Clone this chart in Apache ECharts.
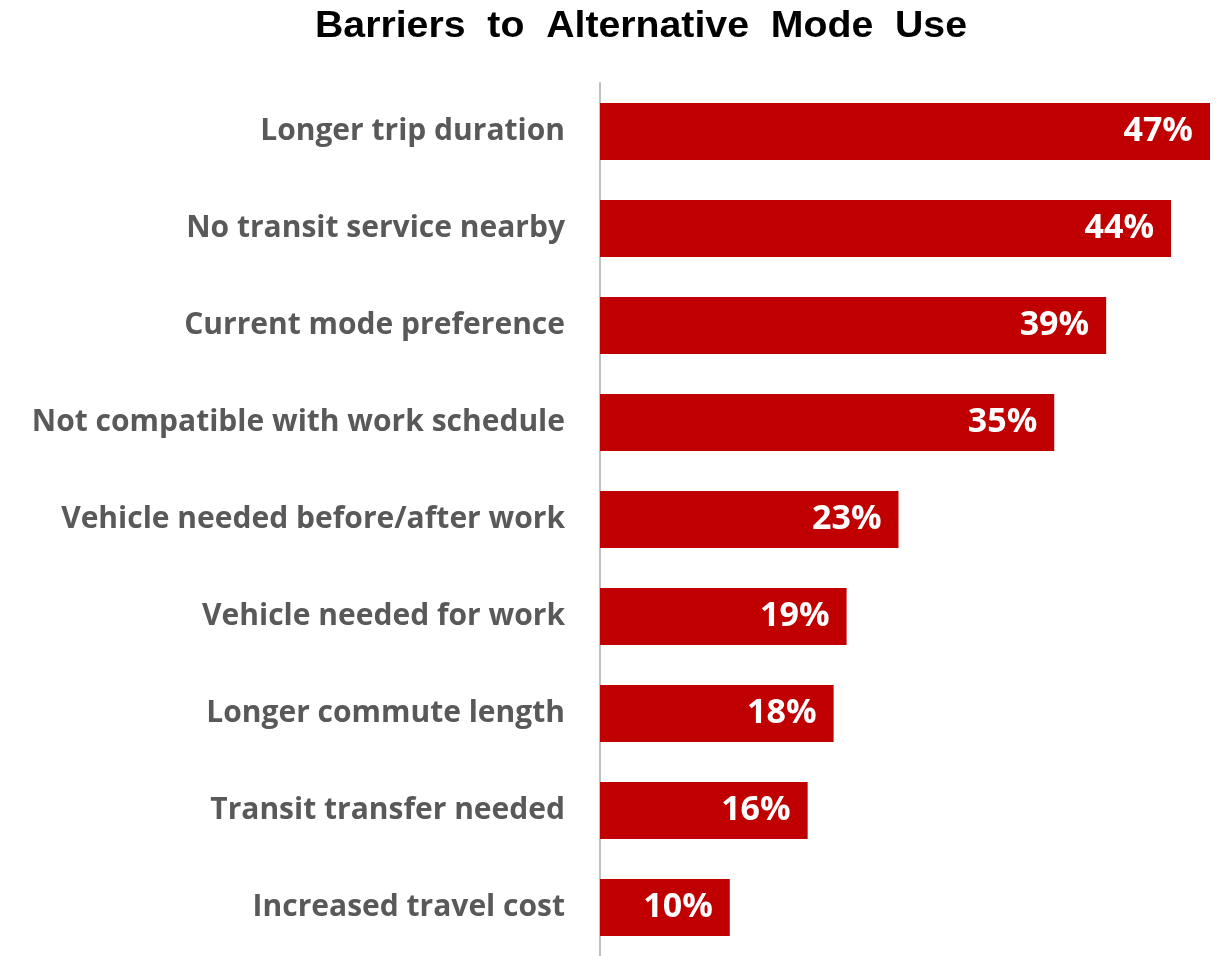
<!DOCTYPE html>
<html>
<head>
<meta charset="utf-8">
<style>
  html, body { margin: 0; padding: 0; background: #ffffff; }
  #chart { width: 1220px; height: 956px; }
</style>
<script src="https://cdn.jsdelivr.net/npm/echarts@6/dist/echarts.min.js"></script>
</head>
<body>
<div id="chart"></div>
<script>
// Barrier categories, listed top to bottom
const barriers = [
  'Longer trip duration',
  'No transit service nearby',
  'Current mode preference',
  'Not compatible with work schedule',
  'Vehicle needed before/after work',
  'Vehicle needed for work',
  'Longer commute length',
  'Transit transfer needed',
  'Increased travel cost'
];
// Share of respondents citing each barrier (%)
const shares = [47, 44, 39, 35, 23, 19, 18, 16, 10];

const chartTitle = 'Barriers  to  Alternative  Mode  Use';

const chart = echarts.init(document.getElementById('chart'), null, { renderer: 'canvas' });

chart.setOption({
  backgroundColor: '#ffffff',
  animation: false,
  // Title drawn as a slightly widened text element (scaled about its own anchor)
  graphic: [{
    type: 'text',
    x: 641,
    y: 27,
    scaleX: 1.09,
    originX: 0,
    originY: 0,
    style: {
      text: chartTitle,
      textAlign: 'center',
      textVerticalAlign: 'middle',
      fontFamily: '"Liberation Sans", Arial, sans-serif',
      fontWeight: 'bold',
      fontSize: 36,
      fill: '#000000'
    }
  }],
  grid: { left: 600, right: 10, top: 83, height: 877 },
  xAxis: {
    type: 'value',
    min: 0,
    max: 47,
    show: false
  },
  yAxis: {
    type: 'category',
    data: barriers,
    inverse: true,
    axisLine: { show: true, lineStyle: { color: '#c0c0c0', width: 2 } },
    axisTick: { show: false },
    axisLabel: {
      margin: 35,
      color: '#595959',
      fontFamily: '"Open Sans", "Noto Sans", sans-serif',
      fontWeight: 'bold',
      fontSize: 30
    }
  },
  series: [{
    type: 'bar',
    data: shares,
    barCategoryGap: '41%',
    itemStyle: { color: '#c00000' },
    label: {
      show: true,
      position: 'insideRight',
      distance: 17,
      formatter: p => p.value + '%',
      color: '#ffffff',
      fontFamily: '"Open Sans", "Noto Sans", sans-serif',
      fontWeight: 'bold',
      fontSize: 34
    }
  }]
});
</script>
</body>
</html>
